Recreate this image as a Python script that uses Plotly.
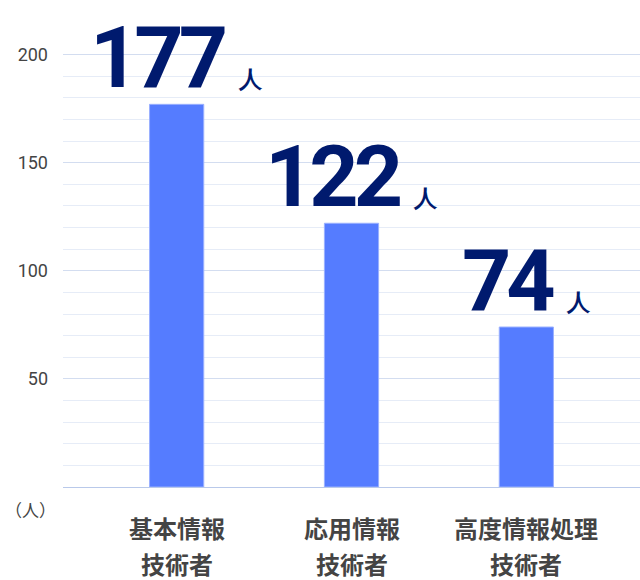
import plotly.graph_objects as go

categories = ["基本情報<br>技術者", "応用情報<br>技術者", "高度情報処理<br>技術者"]
cat_lines = [["基本情報", "技術者"], ["応用情報", "技術者"], ["高度情報処理", "技術者"]]
values = [177, 122, 74]
unit = "人"
y_tickvals = [50, 100, 150, 200]
y_ticktext = ["50", "100", "150", "200"]

x = list(range(len(values)))

fig = go.Figure()
fig.add_trace(go.Bar(
    x=x, y=values, width=0.31,
    marker=dict(color="#557cff", line=dict(color="#9ab0ff", width=1)),
    hoverinfo="skip",
))

annotations = []
for xi, v in zip(x, values):
    annotations.append(dict(
        x=xi, y=v, xref="x", yref="y",
        text=(f"<span style='letter-spacing:-5px'>{v} </span>"
              f"<span style='font-size:23px'>{unit}</span>"),
        showarrow=False, xanchor="center", yanchor="bottom", yshift=-6,
        font=dict(family="Roboto", size=86, color="#001a6e", weight=700),
    ))
    for li, line in enumerate(cat_lines[xi]):
        annotations.append(dict(
            x=xi, y=0, xref="x", yref="paper",
            text=line, showarrow=False, xanchor="center", yanchor="middle",
            yshift=-40 - 36 * li,
            font=dict(family="Noto Sans CJK JP", size=24, color="#444444", weight=700),
        ))

annotations.append(dict(
    x=0, y=0, xref="paper", yref="paper", text="（人）", showarrow=False,
    xanchor="center", yanchor="middle", xshift=-33, yshift=-22,
    font=dict(family="Noto Sans CJK JP", size=17, color="#444444"),
))

fig.update_layout(
    width=640, height=580,
    margin=dict(l=63, r=0, t=33, b=93),
    paper_bgcolor="white", plot_bgcolor="white",
    showlegend=False,
    annotations=annotations,
    xaxis=dict(range=[-0.65, 2.65], showticklabels=False, showgrid=False,
               zeroline=False, showline=False, fixedrange=True),
    yaxis=dict(range=[0, 210], tickvals=y_tickvals, ticktext=y_ticktext,
               showgrid=True, gridcolor="#d3ddf0", gridwidth=1,
               zeroline=True, zerolinecolor="#b9c9ea", zerolinewidth=1,
               showline=False, ticks="", ticklabelstandoff=14, fixedrange=True,
               tickfont=dict(family="Roboto", size=18, color="#444444"),
               minor=dict(dtick=10, showgrid=True, gridcolor="#e6ecf7", gridwidth=1)),
)

fig.write_html(
    "out.html",
    config={"displayModeBar": False},
    post_script="document.body.style.margin='0';document.body.style.overflow='hidden';",
)
